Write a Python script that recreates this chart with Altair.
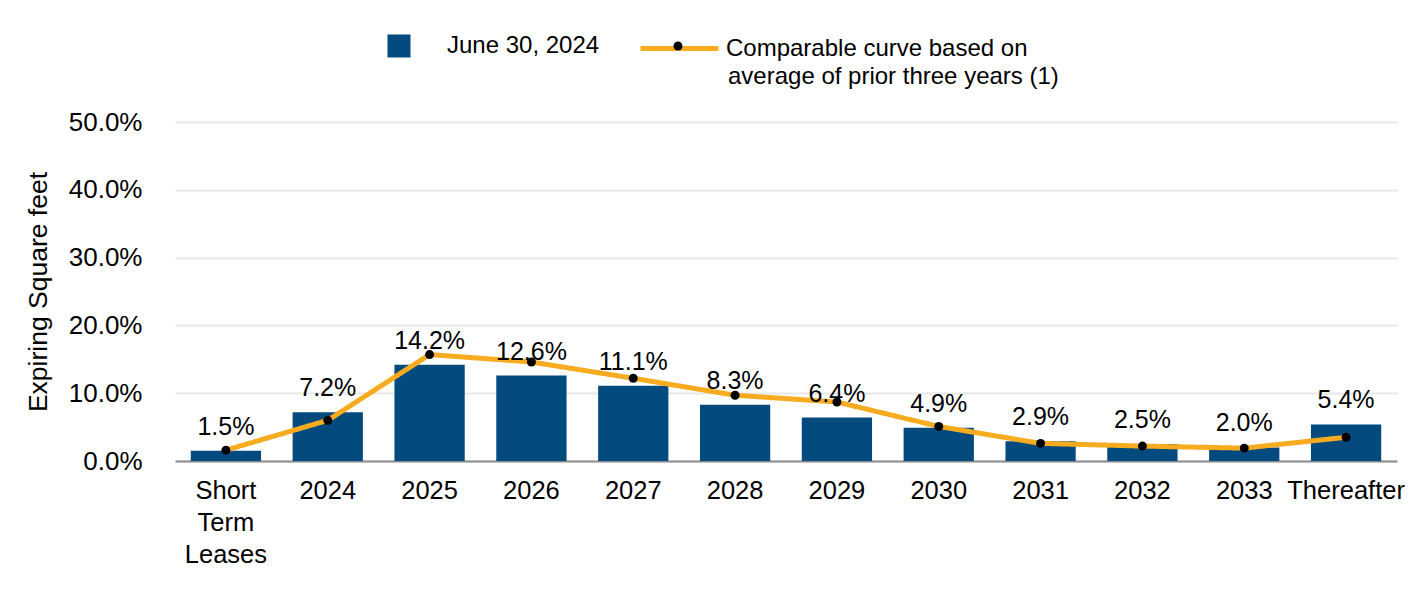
import altair as alt
import pandas as pd

categories = ["Short Term Leases", "2024", "2025", "2026", "2027", "2028",
              "2029", "2030", "2031", "2032", "2033", "Thereafter"]
bar_values = [1.5, 7.2, 14.2, 12.6, 11.1, 8.3, 6.4, 4.9, 2.9, 2.5, 2.0, 5.4]
curve_values = [1.6, 6.0, 15.7, 14.6, 12.2, 9.7, 8.7, 5.1, 2.6, 2.2, 1.9, 3.5]
bar_series = "June 30, 2024"
curve_line1 = "Comparable curve based on"
curve_line2 = "average of prior three years (1)"

df = pd.DataFrame({
    "cat": categories,
    "bar": bar_values,
    "curve": curve_values,
    "label": [f"{v:.1f}%" for v in bar_values],
    "bs": bar_series,
    "cs": curve_line1,
    "cs2": curve_line2,
    "ps": "dot",
})

FONT = "Liberation Sans"
BLUE = "#034a7e"
ORANGE = "#f7ab1f"
LEG_FS = 24

x = alt.X("cat:N", sort=categories, title=None,
          scale=alt.Scale(paddingInner=0.31, paddingOuter=0.155),
          axis=alt.Axis(labelAngle=0, labelFontSize=25.5, labelFont=FONT, labelColor="#000",
                        labelPadding=17, labelLineHeight=32, ticks=False,
                        domainColor="#8c8c8c", domainWidth=2,
                        labelExpr="datum.value == 'Short Term Leases' ? ['Short','Term','Leases'] : datum.value"))
y_scale = alt.Scale(domain=[0, 50], nice=False)

bars = alt.Chart(df).mark_bar(color=BLUE).encode(
    x=x,
    y=alt.Y("bar:Q", scale=y_scale, title="Expiring Square feet",
            axis=alt.Axis(values=[0, 10, 20, 30, 40, 50], labelExpr="format(datum.value, '.1f') + '%'",
                          labelFontSize=26, labelFont=FONT, labelColor="#000", labelPadding=33,
                          ticks=False, domain=False, gridColor="#e8e8e8", gridWidth=2,
                          titleFontSize=26.5, titleFont=FONT, titleFontWeight="normal",
                          titleColor="#000", titlePadding=16)),
    color=alt.Color("bs:N", scale=alt.Scale(domain=[bar_series], range=[BLUE]),
                    legend=alt.Legend(orient="none", legendX=212, legendY=-88, title=None,
                                      symbolType="square", symbolSize=529, symbolStrokeWidth=0,
                                      labelFontSize=LEG_FS, labelFont=FONT, labelColor="#000",
                                      labelOffset=36, padding=0)),
)

labels = alt.Chart(df).mark_text(baseline="bottom", dy=-11, fontSize=25, font=FONT, color="#000").encode(
    x=alt.X("cat:N", sort=categories),
    y=alt.Y("bar:Q", scale=y_scale),
    text="label:N",
)

line = alt.Chart(df).mark_line(strokeWidth=5, interpolate="linear", strokeJoin="round").encode(
    x=alt.X("cat:N", sort=categories),
    y=alt.Y("curve:Q", scale=y_scale),
    stroke=alt.Stroke("cs:N", scale=alt.Scale(domain=[curve_line1], range=[ORANGE]),
                      legend=alt.Legend(orient="none", legendX=463, legendY=-115, title=None,
                                        symbolType="stroke", symbolSize=6084, symbolStrokeWidth=5,
                                        labelFontSize=LEG_FS, labelFont=FONT, labelColor="#000",
                                        labelOffset=5, padding=0, labelLimit=0)),
    strokeDash=alt.StrokeDash("cs2:N", scale=alt.Scale(domain=[curve_line2], range=[[1, 0]]),
                              legend=alt.Legend(orient="none", legendX=465, legendY=-84, title=None,
                                                symbolType="stroke", symbolSize=6084,
                                                symbolOpacity=0, symbolStrokeWidth=0,
                                                labelFontSize=LEG_FS, labelFont=FONT, labelColor="#000",
                                                labelOffset=10, padding=0, labelLimit=0)),
)

points = alt.Chart(df).mark_point(filled=True, size=80, color="#000", opacity=1).encode(
    x=alt.X("cat:N", sort=categories),
    y=alt.Y("curve:Q", scale=y_scale),
    shape=alt.Shape("ps:N", scale=alt.Scale(domain=["dot"], range=["circle"]),
                    legend=alt.Legend(orient="none", legendX=498, legendY=-81, title=None,
                                      symbolSize=80, symbolFillColor="#000", symbolStrokeWidth=0,
                                      symbolOpacity=1, labelExpr="''", padding=0)),
)

chart = alt.layer(bars, line, points, labels).resolve_scale(
    color="independent", stroke="independent", shape="independent", strokeDash="independent"
).properties(
    width=1222, height=339,
    background="white",
    autosize=alt.AutoSizeParams(type="none"),
    padding={"left": 167, "top": 114, "right": 11, "bottom": 110},
).configure_view(stroke=None)

chart.save("out.html", embed_options={"renderer": "svg", "actions": False})
